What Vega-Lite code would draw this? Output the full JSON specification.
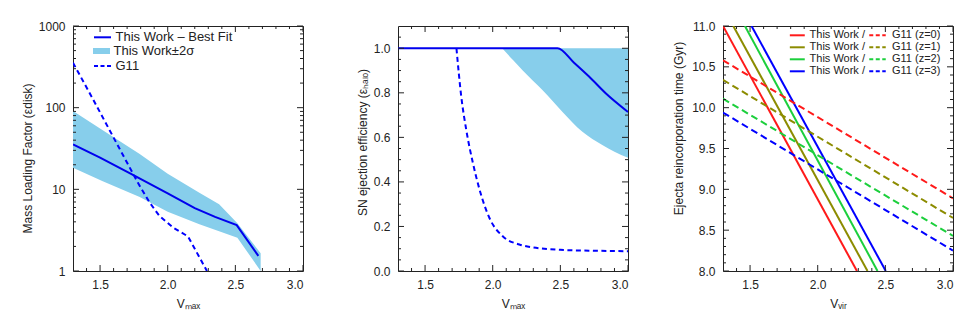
{
  "$schema": "https://vega.github.io/schema/vega-lite/v6.json",
  "padding": {"left": 20, "top": 19, "right": 0, "bottom": 0},
  "config": {
    "font": "Liberation Sans",
    "view": {"stroke": "#222", "strokeWidth": 1},
    "axis": {"grid": false, "domain": false, "ticks": false, "labelFont": "Liberation Sans", "labelFontSize": 12, "labelColor": "#222", "titleFont": "Liberation Sans", "titleFontSize": 12, "titleFontWeight": "normal", "titleColor": "#222"},
    "legend": {"labelFont": "Liberation Sans", "labelColor": "#222"}
  },
  "datasets": {
    "ax": [{"x": 2.0, "ylog": 10, "y2": 0.5, "y3": 9.5}],
    "xmaj": [{"v": 1.5}, {"v": 2.0}, {"v": 2.5}, {"v": 3.0}],
    "xmin": [{"v": 1.4}, {"v": 1.6}, {"v": 1.7}, {"v": 1.8}, {"v": 1.9}, {"v": 2.1}, {"v": 2.2}, {"v": 2.3}, {"v": 2.4}, {"v": 2.6}, {"v": 2.7}, {"v": 2.8}, {"v": 2.9}],
    "p1ymaj": [{"v": 1}, {"v": 10}, {"v": 100}, {"v": 1000}],
    "p1ymin": [{"v": 2}, {"v": 3}, {"v": 4}, {"v": 5}, {"v": 6}, {"v": 7}, {"v": 8}, {"v": 9}, {"v": 20}, {"v": 30}, {"v": 40}, {"v": 50}, {"v": 60}, {"v": 70}, {"v": 80}, {"v": 90}, {"v": 200}, {"v": 300}, {"v": 400}, {"v": 500}, {"v": 600}, {"v": 700}, {"v": 800}, {"v": 900}],
    "p2ymaj": [{"v": 0}, {"v": 0.2}, {"v": 0.4}, {"v": 0.6}, {"v": 0.8}, {"v": 1.0}],
    "p2ymin": [{"v": 0.05}, {"v": 0.1}, {"v": 0.15}, {"v": 0.25}, {"v": 0.3}, {"v": 0.35}, {"v": 0.45}, {"v": 0.5}, {"v": 0.55}, {"v": 0.65}, {"v": 0.7}, {"v": 0.75}, {"v": 0.85}, {"v": 0.9}, {"v": 0.95}, {"v": 1.05}],
    "p3ymaj": [{"v": 8}, {"v": 8.5}, {"v": 9}, {"v": 9.5}, {"v": 10}, {"v": 10.5}, {"v": 11}],
    "p3ymin": [{"v": 8.1}, {"v": 8.2}, {"v": 8.3}, {"v": 8.4}, {"v": 8.6}, {"v": 8.7}, {"v": 8.8}, {"v": 8.9}, {"v": 9.1}, {"v": 9.2}, {"v": 9.3}, {"v": 9.4}, {"v": 9.6}, {"v": 9.7}, {"v": 9.8}, {"v": 9.9}, {"v": 10.1}, {"v": 10.2}, {"v": 10.3}, {"v": 10.4}, {"v": 10.6}, {"v": 10.7}, {"v": 10.8}, {"v": 10.9}],
    "p1band": [
      {"x": 1.3, "lo": 18.4, "hi": 91, "s": "This Work±2σ"},
      {"x": 1.52, "lo": 12.6, "hi": 53, "s": "This Work±2σ"},
      {"x": 1.793, "lo": 8.05, "hi": 27, "s": "This Work±2σ"},
      {"x": 2.0, "lo": 5.3, "hi": 15.5, "s": "This Work±2σ"},
      {"x": 2.234, "lo": 3.73, "hi": 9.1, "s": "This Work±2σ"},
      {"x": 2.38, "lo": 3.06, "hi": 6.55, "s": "This Work±2σ"},
      {"x": 2.515, "lo": 2.56, "hi": 3.85, "s": "This Work±2σ"},
      {"x": 2.687, "lo": 1.0, "hi": 1.65, "s": "This Work±2σ"}
    ],
    "p1best": [
      {"x": 1.3, "y": 35.5, "s": "This Work – Best Fit"},
      {"x": 1.5, "y": 24.4, "s": "This Work – Best Fit"},
      {"x": 1.75, "y": 14.8, "s": "This Work – Best Fit"},
      {"x": 2.0, "y": 8.9, "s": "This Work – Best Fit"},
      {"x": 2.2, "y": 5.9, "s": "This Work – Best Fit"},
      {"x": 2.35, "y": 4.6, "s": "This Work – Best Fit"},
      {"x": 2.51, "y": 3.65, "s": "This Work – Best Fit"},
      {"x": 2.67, "y": 1.53, "s": "This Work – Best Fit"}
    ],
    "p1g11": [
      {"x": 1.3, "y": 355, "s": "G11"},
      {"x": 1.45, "y": 125, "s": "G11"},
      {"x": 1.6, "y": 43, "s": "G11"},
      {"x": 1.78, "y": 12, "s": "G11"},
      {"x": 1.866, "y": 6.9, "s": "G11"},
      {"x": 1.94, "y": 4.7, "s": "G11"},
      {"x": 2.04, "y": 3.4, "s": "G11"},
      {"x": 2.15, "y": 2.65, "s": "G11"},
      {"x": 2.29, "y": 1.0, "s": "G11"}
    ],
    "p2band": [
      {"x": 2.07, "lo": 1.0, "hi": 1.0},
      {"x": 2.15, "lo": 0.947, "hi": 1.0},
      {"x": 2.222, "lo": 0.9, "hi": 1.0},
      {"x": 2.369, "lo": 0.811, "hi": 1.0},
      {"x": 2.516, "lo": 0.714, "hi": 1.0},
      {"x": 2.663, "lo": 0.625, "hi": 1.0},
      {"x": 2.81, "lo": 0.566, "hi": 1.0},
      {"x": 2.9, "lo": 0.535, "hi": 1.0},
      {"x": 3.0, "lo": 0.508, "hi": 1.0}
    ],
    "p2best": [
      {"x": 1.3, "y": 1.0},
      {"x": 2.479, "y": 1.0},
      {"x": 2.601, "y": 0.935},
      {"x": 2.712, "y": 0.873},
      {"x": 2.835, "y": 0.798},
      {"x": 3.0, "y": 0.714}
    ],
    "p2g11": [
      {"x": 1.732, "y": 1.0},
      {"x": 1.768, "y": 0.781},
      {"x": 1.805, "y": 0.632},
      {"x": 1.854, "y": 0.484},
      {"x": 1.903, "y": 0.365},
      {"x": 1.976, "y": 0.238},
      {"x": 2.074, "y": 0.156},
      {"x": 2.197, "y": 0.119},
      {"x": 2.32, "y": 0.104},
      {"x": 2.5, "y": 0.095},
      {"x": 2.75, "y": 0.091},
      {"x": 3.0, "y": 0.089}
    ],
    "p3solid": [
      {"x": 1.3, "y": 11.0, "z": "z=0"}, {"x": 2.29, "y": 8.0, "z": "z=0"},
      {"x": 1.376, "y": 11.0, "z": "z=1"}, {"x": 2.368, "y": 8.0, "z": "z=1"},
      {"x": 1.462, "y": 11.0, "z": "z=2"}, {"x": 2.442, "y": 8.0, "z": "z=2"},
      {"x": 1.511, "y": 11.0, "z": "z=3"}, {"x": 2.503, "y": 8.0, "z": "z=3"}
    ],
    "p3dash": [
      {"x": 1.3, "y": 10.58, "z": "z=0"}, {"x": 3.0, "y": 8.89, "z": "z=0"},
      {"x": 1.3, "y": 10.34, "z": "z=1"}, {"x": 3.0, "y": 8.65, "z": "z=1"},
      {"x": 1.3, "y": 10.11, "z": "z=2"}, {"x": 3.0, "y": 8.43, "z": "z=2"},
      {"x": 1.3, "y": 9.94, "z": "z=3"}, {"x": 3.0, "y": 8.25, "z": "z=3"}
    ]
  },
  "hconcat": [
    {
      "width": 230, "height": 245,
      "layer": [
        {"data": {"name": "ax"}, "mark": {"type": "point", "opacity": 0},
         "encoding": {
           "x": {"field": "x", "type": "quantitative", "scale": {"domain": [1.3, 3.0], "nice": false, "zero": false},
             "axis": {"orient": "bottom", "values": [1.5, 2.0, 2.5, 3.0], "format": ".1f", "labelPadding": 8, "title": "Vₘₐₓ", "titlePadding": 8}},
           "y": {"field": "ylog", "type": "quantitative", "scale": {"type": "log", "domain": [1, 1000], "nice": false},
             "axis": {"orient": "left", "values": [1, 10, 100, 1000], "format": "d", "labelPadding": 8, "title": "Mass Loading Factor (εdisk)", "titleX": -46, "titleY": 132, "titleBaseline": "middle", "titleAngle": 270}}}},
        {"data": {"name": "p1band"}, "mark": {"type": "area", "opacity": 1},
         "encoding": {
           "x": {"field": "x", "type": "quantitative", "scale": {"domain": [1.3, 3.0], "nice": false, "zero": false}, "axis": null},
           "y": {"field": "hi", "type": "quantitative", "scale": {"type": "log", "domain": [1, 1000], "nice": false}, "axis": null},
           "y2": {"field": "lo"},
           "color": {"field": "s", "type": "nominal", "scale": {"range": ["#87CEEB"]},
             "legend": {"orient": "none", "legendX": 20, "legendY": 16.5, "title": null, "padding": 0, "symbolType": "M-1,-0.35L1,-0.35L1,0.35L-1,0.35Z", "symbolSize": 289, "symbolStrokeWidth": 0, "symbolOpacity": 1, "labelFontSize": 13, "labelOffset": 3.5}}
         }},
        {"data": {"name": "p1best"}, "mark": {"type": "line", "strokeWidth": 2, "clip": true},
         "encoding": {
           "x": {"field": "x", "type": "quantitative", "scale": {"domain": [1.3, 3.0], "nice": false, "zero": false}, "axis": null},
           "y": {"field": "y", "type": "quantitative", "scale": {"type": "log", "domain": [1, 1000], "nice": false}, "axis": null},
           "color": {"field": "s", "type": "nominal", "scale": {"range": ["#0000ee"]},
             "legend": {"orient": "none", "legendX": 20, "legendY": 1.8, "title": null, "padding": 0, "symbolType": "stroke", "symbolSize": 289, "symbolStrokeWidth": 2, "labelFontSize": 13, "labelOffset": 3.5}}
         }},
        {"data": {"name": "p1g11"}, "mark": {"type": "line", "strokeWidth": 2, "strokeDash": [5, 3.5], "clip": true},
         "encoding": {
           "x": {"field": "x", "type": "quantitative", "scale": {"domain": [1.3, 3.0], "nice": false, "zero": false}, "axis": null},
           "y": {"field": "y", "type": "quantitative", "scale": {"type": "log", "domain": [1, 1000], "nice": false}, "axis": null},
           "color": {"field": "s", "type": "nominal", "scale": {"range": ["#0000ff"]},
             "legend": {"orient": "none", "legendX": 20, "legendY": 30.5, "title": null, "padding": 0, "symbolType": "stroke", "symbolSize": 289, "symbolStrokeWidth": 2, "symbolDash": [4, 2.5], "labelFontSize": 13, "labelOffset": 3.5}}
         }},
        {"data": {"name": "xmaj"}, "mark": {"type": "tick", "orient": "vertical", "size": 6, "thickness": 1, "color": "#222", "opacity": 1, "yOffset": -3},
         "encoding": {"x": {"field": "v", "type": "quantitative", "scale": {"domain": [1.3, 3.0], "nice": false, "zero": false}, "axis": null},
           "y": {"datum": 1, "type": "quantitative", "scale": {"type": "log", "domain": [1, 1000], "nice": false}, "axis": null}}},
        {"data": {"name": "xmaj"}, "mark": {"type": "tick", "orient": "vertical", "size": 6, "thickness": 1, "color": "#222", "opacity": 1, "yOffset": 3},
         "encoding": {"x": {"field": "v", "type": "quantitative", "scale": {"domain": [1.3, 3.0], "nice": false, "zero": false}, "axis": null},
           "y": {"datum": 1000, "type": "quantitative", "scale": {"type": "log", "domain": [1, 1000], "nice": false}, "axis": null}}},
        {"data": {"name": "xmin"}, "mark": {"type": "tick", "orient": "vertical", "size": 3, "thickness": 1, "color": "#222", "opacity": 1, "yOffset": -1.5},
         "encoding": {"x": {"field": "v", "type": "quantitative", "scale": {"domain": [1.3, 3.0], "nice": false, "zero": false}, "axis": null},
           "y": {"datum": 1, "type": "quantitative", "scale": {"type": "log", "domain": [1, 1000], "nice": false}, "axis": null}}},
        {"data": {"name": "xmin"}, "mark": {"type": "tick", "orient": "vertical", "size": 3, "thickness": 1, "color": "#222", "opacity": 1, "yOffset": 1.5},
         "encoding": {"x": {"field": "v", "type": "quantitative", "scale": {"domain": [1.3, 3.0], "nice": false, "zero": false}, "axis": null},
           "y": {"datum": 1000, "type": "quantitative", "scale": {"type": "log", "domain": [1, 1000], "nice": false}, "axis": null}}},
        {"data": {"name": "p1ymaj"}, "mark": {"type": "tick", "orient": "horizontal", "size": 6, "thickness": 1, "color": "#222", "opacity": 1, "xOffset": 3},
         "encoding": {"y": {"field": "v", "type": "quantitative", "scale": {"type": "log", "domain": [1, 1000], "nice": false}, "axis": null},
           "x": {"datum": 1.3, "type": "quantitative", "scale": {"domain": [1.3, 3.0], "nice": false, "zero": false}, "axis": null}}},
        {"data": {"name": "p1ymaj"}, "mark": {"type": "tick", "orient": "horizontal", "size": 6, "thickness": 1, "color": "#222", "opacity": 1, "xOffset": -3},
         "encoding": {"y": {"field": "v", "type": "quantitative", "scale": {"type": "log", "domain": [1, 1000], "nice": false}, "axis": null},
           "x": {"datum": 3.0, "type": "quantitative", "scale": {"domain": [1.3, 3.0], "nice": false, "zero": false}, "axis": null}}},
        {"data": {"name": "p1ymin"}, "mark": {"type": "tick", "orient": "horizontal", "size": 3, "thickness": 1, "color": "#222", "opacity": 1, "xOffset": 1.5},
         "encoding": {"y": {"field": "v", "type": "quantitative", "scale": {"type": "log", "domain": [1, 1000], "nice": false}, "axis": null},
           "x": {"datum": 1.3, "type": "quantitative", "scale": {"domain": [1.3, 3.0], "nice": false, "zero": false}, "axis": null}}},
        {"data": {"name": "p1ymin"}, "mark": {"type": "tick", "orient": "horizontal", "size": 3, "thickness": 1, "color": "#222", "opacity": 1, "xOffset": -1.5},
         "encoding": {"y": {"field": "v", "type": "quantitative", "scale": {"type": "log", "domain": [1, 1000], "nice": false}, "axis": null},
           "x": {"datum": 3.0, "type": "quantitative", "scale": {"domain": [1.3, 3.0], "nice": false, "zero": false}, "axis": null}}}
      ],
      "resolve": {"scale": {"color": "independent"}, "axis": {"x": "independent", "y": "independent"}}
    },
    {
      "width": 230, "height": 245,
      "layer": [
        {"data": {"name": "ax"}, "mark": {"type": "point", "opacity": 0},
         "encoding": {
           "x": {"field": "x", "type": "quantitative", "scale": {"domain": [1.3, 3.0], "nice": false, "zero": false},
             "axis": {"orient": "bottom", "values": [1.5, 2.0, 2.5, 3.0], "format": ".1f", "labelPadding": 8, "title": "Vₘₐₓ", "titlePadding": 8}},
           "y": {"field": "y2", "type": "quantitative", "scale": {"domain": [0, 1.1], "nice": false, "zero": false},
             "axis": {"orient": "left", "values": [0, 0.2, 0.4, 0.6, 0.8, 1.0], "format": ".1f", "labelPadding": 8, "title": "SN ejection efficiency (εₕₐₗₒ)", "titleX": -36, "titleY": 116, "titleBaseline": "middle", "titleAngle": 270}}}},
        {"data": {"name": "p2band"}, "mark": {"type": "area", "color": "#87CEEB", "opacity": 1, "interpolate": "monotone"},
         "encoding": {
           "x": {"field": "x", "type": "quantitative", "scale": {"domain": [1.3, 3.0], "nice": false, "zero": false}, "axis": null},
           "y": {"field": "hi", "type": "quantitative", "scale": {"domain": [0, 1.1], "nice": false, "zero": false}, "axis": null},
           "y2": {"field": "lo"}
         }},
        {"data": {"name": "p2best"}, "mark": {"type": "line", "strokeWidth": 2, "color": "#0000ee", "clip": true, "interpolate": "monotone"},
         "encoding": {
           "x": {"field": "x", "type": "quantitative", "scale": {"domain": [1.3, 3.0], "nice": false, "zero": false}, "axis": null},
           "y": {"field": "y", "type": "quantitative", "scale": {"domain": [0, 1.1], "nice": false, "zero": false}, "axis": null}
         }},
        {"data": {"name": "p2g11"}, "mark": {"type": "line", "strokeWidth": 2, "color": "#0000ff", "strokeDash": [5, 3.5], "clip": true, "interpolate": "monotone"},
         "encoding": {
           "x": {"field": "x", "type": "quantitative", "scale": {"domain": [1.3, 3.0], "nice": false, "zero": false}, "axis": null},
           "y": {"field": "y", "type": "quantitative", "scale": {"domain": [0, 1.1], "nice": false, "zero": false}, "axis": null}
         }},
        {"data": {"name": "xmaj"}, "mark": {"type": "tick", "orient": "vertical", "size": 6, "thickness": 1, "color": "#222", "opacity": 1, "yOffset": -3},
         "encoding": {"x": {"field": "v", "type": "quantitative", "scale": {"domain": [1.3, 3.0], "nice": false, "zero": false}, "axis": null},
           "y": {"datum": 0, "type": "quantitative", "scale": {"domain": [0, 1.1], "nice": false, "zero": false}, "axis": null}}},
        {"data": {"name": "xmaj"}, "mark": {"type": "tick", "orient": "vertical", "size": 6, "thickness": 1, "color": "#222", "opacity": 1, "yOffset": 3},
         "encoding": {"x": {"field": "v", "type": "quantitative", "scale": {"domain": [1.3, 3.0], "nice": false, "zero": false}, "axis": null},
           "y": {"datum": 1.1, "type": "quantitative", "scale": {"domain": [0, 1.1], "nice": false, "zero": false}, "axis": null}}},
        {"data": {"name": "xmin"}, "mark": {"type": "tick", "orient": "vertical", "size": 3, "thickness": 1, "color": "#222", "opacity": 1, "yOffset": -1.5},
         "encoding": {"x": {"field": "v", "type": "quantitative", "scale": {"domain": [1.3, 3.0], "nice": false, "zero": false}, "axis": null},
           "y": {"datum": 0, "type": "quantitative", "scale": {"domain": [0, 1.1], "nice": false, "zero": false}, "axis": null}}},
        {"data": {"name": "xmin"}, "mark": {"type": "tick", "orient": "vertical", "size": 3, "thickness": 1, "color": "#222", "opacity": 1, "yOffset": 1.5},
         "encoding": {"x": {"field": "v", "type": "quantitative", "scale": {"domain": [1.3, 3.0], "nice": false, "zero": false}, "axis": null},
           "y": {"datum": 1.1, "type": "quantitative", "scale": {"domain": [0, 1.1], "nice": false, "zero": false}, "axis": null}}},
        {"data": {"name": "p2ymaj"}, "mark": {"type": "tick", "orient": "horizontal", "size": 6, "thickness": 1, "color": "#222", "opacity": 1, "xOffset": 3},
         "encoding": {"y": {"field": "v", "type": "quantitative", "scale": {"domain": [0, 1.1], "nice": false, "zero": false}, "axis": null},
           "x": {"datum": 1.3, "type": "quantitative", "scale": {"domain": [1.3, 3.0], "nice": false, "zero": false}, "axis": null}}},
        {"data": {"name": "p2ymaj"}, "mark": {"type": "tick", "orient": "horizontal", "size": 6, "thickness": 1, "color": "#222", "opacity": 1, "xOffset": -3},
         "encoding": {"y": {"field": "v", "type": "quantitative", "scale": {"domain": [0, 1.1], "nice": false, "zero": false}, "axis": null},
           "x": {"datum": 3.0, "type": "quantitative", "scale": {"domain": [1.3, 3.0], "nice": false, "zero": false}, "axis": null}}},
        {"data": {"name": "p2ymin"}, "mark": {"type": "tick", "orient": "horizontal", "size": 3, "thickness": 1, "color": "#222", "opacity": 1, "xOffset": 1.5},
         "encoding": {"y": {"field": "v", "type": "quantitative", "scale": {"domain": [0, 1.1], "nice": false, "zero": false}, "axis": null},
           "x": {"datum": 1.3, "type": "quantitative", "scale": {"domain": [1.3, 3.0], "nice": false, "zero": false}, "axis": null}}},
        {"data": {"name": "p2ymin"}, "mark": {"type": "tick", "orient": "horizontal", "size": 3, "thickness": 1, "color": "#222", "opacity": 1, "xOffset": -1.5},
         "encoding": {"y": {"field": "v", "type": "quantitative", "scale": {"domain": [0, 1.1], "nice": false, "zero": false}, "axis": null},
           "x": {"datum": 3.0, "type": "quantitative", "scale": {"domain": [1.3, 3.0], "nice": false, "zero": false}, "axis": null}}}
      ],
      "resolve": {"axis": {"x": "independent", "y": "independent"}}
    },
    {
      "width": 230, "height": 245,
      "layer": [
        {"data": {"name": "ax"}, "mark": {"type": "point", "opacity": 0},
         "encoding": {
           "x": {"field": "x", "type": "quantitative", "scale": {"domain": [1.3, 3.0], "nice": false, "zero": false},
             "axis": {"orient": "bottom", "values": [1.5, 2.0, 2.5, 3.0], "format": ".1f", "labelPadding": 8, "title": "Vᵥᵢᵣ", "titlePadding": 8}},
           "y": {"field": "y3", "type": "quantitative", "scale": {"domain": [8, 11], "nice": false, "zero": false},
             "axis": {"orient": "left", "values": [8, 8.5, 9, 9.5, 10, 10.5, 11], "format": ".1f", "labelPadding": 8, "title": "Ejecta reincorporation time (Gyr)", "titleX": -45, "titleY": 102, "titleBaseline": "middle", "titleAngle": 270}}}},
        {"data": {"name": "p3solid"}, "mark": {"type": "line", "strokeWidth": 2, "clip": true},
         "encoding": {
           "x": {"field": "x", "type": "quantitative", "scale": {"domain": [1.3, 3.0], "nice": false, "zero": false}, "axis": null},
           "y": {"field": "y", "type": "quantitative", "scale": {"domain": [8, 11], "nice": false, "zero": false}, "axis": null},
           "color": {"field": "z", "type": "nominal", "scale": {"domain": ["z=0", "z=1", "z=2", "z=3"], "range": ["#ff1a1a", "#8c8c00", "#1ccf3c", "#0000ff"]},
             "legend": {"orient": "none", "legendX": 67.8, "legendY": 2.8, "title": null, "padding": 0, "symbolType": "M-1.45,0L1.45,0", "symbolSize": 106, "symbolStrokeWidth": 2, "symbolFillColor": "transparent", "labelFontSize": 11, "labelOffset": 5.75, "rowPadding": 0, "labelExpr": "'This Work  /'"}}
         }},
        {"data": {"name": "p3dash"}, "mark": {"type": "line", "strokeWidth": 2, "strokeDash": [7, 4], "clip": true},
         "encoding": {
           "x": {"field": "x", "type": "quantitative", "scale": {"domain": [1.3, 3.0], "nice": false, "zero": false}, "axis": null},
           "y": {"field": "y", "type": "quantitative", "scale": {"domain": [8, 11], "nice": false, "zero": false}, "axis": null},
           "color": {"field": "z", "type": "nominal", "scale": {"domain": ["z=0", "z=1", "z=2", "z=3"], "range": ["#ff1a1a", "#8c8c00", "#1ccf3c", "#0000ff"]},
             "legend": {"orient": "none", "legendX": 148, "legendY": 2.8, "title": null, "padding": 0, "symbolType": "M-1.6,0L1.6,0", "symbolSize": 106, "symbolStrokeWidth": 2, "symbolFillColor": "transparent", "symbolDash": [4, 2.5], "labelFontSize": 11, "labelOffset": 8, "rowPadding": 0, "labelExpr": "'G11 (' + datum.label + ')'"}}
         }},
        {"data": {"name": "xmaj"}, "mark": {"type": "tick", "orient": "vertical", "size": 6, "thickness": 1, "color": "#222", "opacity": 1, "yOffset": -3},
         "encoding": {"x": {"field": "v", "type": "quantitative", "scale": {"domain": [1.3, 3.0], "nice": false, "zero": false}, "axis": null},
           "y": {"datum": 8, "type": "quantitative", "scale": {"domain": [8, 11], "nice": false, "zero": false}, "axis": null}}},
        {"data": {"name": "xmaj"}, "mark": {"type": "tick", "orient": "vertical", "size": 6, "thickness": 1, "color": "#222", "opacity": 1, "yOffset": 3},
         "encoding": {"x": {"field": "v", "type": "quantitative", "scale": {"domain": [1.3, 3.0], "nice": false, "zero": false}, "axis": null},
           "y": {"datum": 11, "type": "quantitative", "scale": {"domain": [8, 11], "nice": false, "zero": false}, "axis": null}}},
        {"data": {"name": "xmin"}, "mark": {"type": "tick", "orient": "vertical", "size": 3, "thickness": 1, "color": "#222", "opacity": 1, "yOffset": -1.5},
         "encoding": {"x": {"field": "v", "type": "quantitative", "scale": {"domain": [1.3, 3.0], "nice": false, "zero": false}, "axis": null},
           "y": {"datum": 8, "type": "quantitative", "scale": {"domain": [8, 11], "nice": false, "zero": false}, "axis": null}}},
        {"data": {"name": "xmin"}, "mark": {"type": "tick", "orient": "vertical", "size": 3, "thickness": 1, "color": "#222", "opacity": 1, "yOffset": 1.5},
         "encoding": {"x": {"field": "v", "type": "quantitative", "scale": {"domain": [1.3, 3.0], "nice": false, "zero": false}, "axis": null},
           "y": {"datum": 11, "type": "quantitative", "scale": {"domain": [8, 11], "nice": false, "zero": false}, "axis": null}}},
        {"data": {"name": "p3ymaj"}, "mark": {"type": "tick", "orient": "horizontal", "size": 6, "thickness": 1, "color": "#222", "opacity": 1, "xOffset": 3},
         "encoding": {"y": {"field": "v", "type": "quantitative", "scale": {"domain": [8, 11], "nice": false, "zero": false}, "axis": null},
           "x": {"datum": 1.3, "type": "quantitative", "scale": {"domain": [1.3, 3.0], "nice": false, "zero": false}, "axis": null}}},
        {"data": {"name": "p3ymaj"}, "mark": {"type": "tick", "orient": "horizontal", "size": 6, "thickness": 1, "color": "#222", "opacity": 1, "xOffset": -3},
         "encoding": {"y": {"field": "v", "type": "quantitative", "scale": {"domain": [8, 11], "nice": false, "zero": false}, "axis": null},
           "x": {"datum": 3.0, "type": "quantitative", "scale": {"domain": [1.3, 3.0], "nice": false, "zero": false}, "axis": null}}},
        {"data": {"name": "p3ymin"}, "mark": {"type": "tick", "orient": "horizontal", "size": 3, "thickness": 1, "color": "#222", "opacity": 1, "xOffset": 1.5},
         "encoding": {"y": {"field": "v", "type": "quantitative", "scale": {"domain": [8, 11], "nice": false, "zero": false}, "axis": null},
           "x": {"datum": 1.3, "type": "quantitative", "scale": {"domain": [1.3, 3.0], "nice": false, "zero": false}, "axis": null}}},
        {"data": {"name": "p3ymin"}, "mark": {"type": "tick", "orient": "horizontal", "size": 3, "thickness": 1, "color": "#222", "opacity": 1, "xOffset": -1.5},
         "encoding": {"y": {"field": "v", "type": "quantitative", "scale": {"domain": [8, 11], "nice": false, "zero": false}, "axis": null},
           "x": {"datum": 3.0, "type": "quantitative", "scale": {"domain": [1.3, 3.0], "nice": false, "zero": false}, "axis": null}}}
      ],
      "resolve": {"scale": {"color": "independent"}, "axis": {"x": "independent", "y": "independent"}}
    }
  ],
  "spacing": 95,
  "bounds": "flush"
}
